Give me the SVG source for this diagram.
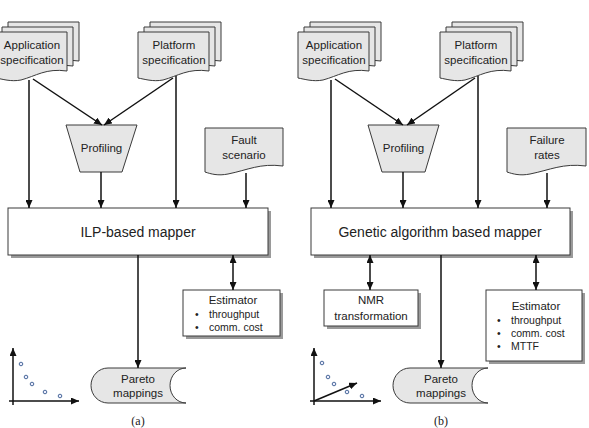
<svg xmlns="http://www.w3.org/2000/svg" width="589" height="428" viewBox="0 0 589 428">
<style>
.sh{fill:#e6e6e6;stroke:#3a3a3a;stroke-width:1}
.bx{fill:#fff;stroke:#3a3a3a;stroke-width:1}
.sd{fill:#9a9a9a}
.ln{stroke:#111;stroke-width:1.5;fill:none}
.t{font-family:"Liberation Sans",Arial,sans-serif;font-size:11.5px;fill:#222;text-anchor:middle}
.tb{font-family:"Liberation Sans",Arial,sans-serif;font-size:14px;fill:#222;text-anchor:middle}
.ts{font-family:"Liberation Sans",Arial,sans-serif;font-size:10.5px;fill:#222}
.cap{font-family:"Liberation Serif","Times New Roman",serif;font-size:12px;fill:#222;text-anchor:middle}
.pt{fill:#eef;stroke:#4a6a9a;stroke-width:1}
</style>
<defs>
<marker id="ah" markerUnits="userSpaceOnUse" markerWidth="8" markerHeight="7" refX="8" refY="3.5" orient="auto-start-reverse">
<path d="M0,0 L8,3.5 L0,7 z" fill="#111"/>
</marker>
<path id="doc" d="M0,0 H71 V39 C50,36 40,44 25,48 C15,50 6,47 0,46 Z"/>
</defs>

<!-- ===== Panel (a) ===== -->
<g id="app-spec-a">
<use href="#doc" class="sh" x="8" y="22"/>
<use href="#doc" class="sh" x="2" y="27"/>
<use href="#doc" class="sh" x="-4" y="32"/>
<text class="t" x="32" y="49">Application</text>
<text class="t" x="32" y="64">specification</text>
</g>
<g id="plat-spec-a">
<use href="#doc" class="sh" x="150" y="22"/>
<use href="#doc" class="sh" x="144" y="27"/>
<use href="#doc" class="sh" x="138" y="32"/>
<text class="t" x="174" y="49">Platform</text>
<text class="t" x="174" y="64">specification</text>
</g>
<g id="profiling-a">
<path class="sh" d="M66,125 H137 L122,172 H80 Z"/>
<text class="t" x="101.5" y="152">Profiling</text>
</g>
<g id="fault-a">
<path class="sh" d="M205,128 H283 V166 C260,163 248,170 228,174 C218,176 211,174 205,172 Z"/>
<text class="t" x="244" y="144">Fault</text>
<text class="t" x="244" y="159">scenario</text>
</g>
<g id="mapper-a">
<rect class="sd" x="11" y="211" width="260" height="47"/>
<rect class="bx" x="8" y="208" width="260" height="47"/>
<text class="tb" x="138" y="237">ILP-based mapper</text>
</g>
<g id="estimator-a">
<rect class="sd" x="186" y="293" width="97" height="46"/>
<rect class="bx" x="183" y="290" width="97" height="46"/>
<text class="t" x="233" y="304">Estimator</text>
<text class="ts" x="195" y="318">•</text>
<text class="ts" x="209" y="318">throughput</text>
<text class="ts" x="195" y="331">•</text>
<text class="ts" x="209" y="331">comm. cost</text>
</g>
<g id="pareto-a">
<path class="sh" d="M108,368 H186 A16,17.5 0 0 0 186,403 H108 A17,17.5 0 0 1 108,368 Z"/>
<text class="t" x="138" y="383">Pareto</text>
<text class="t" x="138" y="397">mappings</text>
</g>
<g id="plot-a">
<line class="ln" x1="13" y1="405" x2="13" y2="348" marker-end="url(#ah)"/>
<line class="ln" x1="9" y1="401" x2="79" y2="401" marker-end="url(#ah)"/>
<circle class="pt" cx="21" cy="364" r="1.8"/>
<circle class="pt" cx="26" cy="377" r="1.8"/>
<circle class="pt" cx="32" cy="384" r="1.8"/>
<circle class="pt" cx="45" cy="392" r="1.8"/>
<circle class="pt" cx="60" cy="396" r="1.8"/>
</g>
<text class="cap" x="138" y="425">(a)</text>

<!-- ===== Panel (b) ===== -->
<g id="app-spec-b">
<use href="#doc" class="sh" x="310" y="22"/>
<use href="#doc" class="sh" x="304" y="27"/>
<use href="#doc" class="sh" x="298" y="32"/>
<text class="t" x="334" y="49">Application</text>
<text class="t" x="334" y="64">specification</text>
</g>
<g id="plat-spec-b">
<use href="#doc" class="sh" x="452" y="22"/>
<use href="#doc" class="sh" x="446" y="27"/>
<use href="#doc" class="sh" x="440" y="32"/>
<text class="t" x="476" y="49">Platform</text>
<text class="t" x="476" y="64">specification</text>
</g>
<g id="profiling-b">
<path class="sh" d="M368,125 H439 L425,172 H382 Z"/>
<text class="t" x="403.5" y="152">Profiling</text>
</g>
<g id="failure-b">
<path class="sh" d="M507,128 H586 V166 C563,163 550,170 530,174 C520,176 513,174 507,172 Z"/>
<text class="t" x="547" y="144">Failure</text>
<text class="t" x="547" y="159">rates</text>
</g>
<g id="mapper-b">
<rect class="sd" x="314" y="211" width="259" height="47"/>
<rect class="bx" x="311" y="208" width="259" height="47"/>
<text class="tb" x="440" y="237">Genetic algorithm based mapper</text>
</g>
<g id="nmr-b">
<rect class="sd" x="327" y="293" width="94" height="36"/>
<rect class="bx" x="324" y="290" width="94" height="36"/>
<text class="t" x="371" y="304">NMR</text>
<text class="t" x="371" y="320">transformation</text>
</g>
<g id="estimator-b">
<rect class="sd" x="489" y="293" width="96" height="71"/>
<rect class="bx" x="486" y="290" width="96" height="71"/>
<text class="t" x="536" y="310">Estimator</text>
<text class="ts" x="497" y="324">•</text>
<text class="ts" x="511" y="324">throughput</text>
<text class="ts" x="497" y="337">•</text>
<text class="ts" x="511" y="337">comm. cost</text>
<text class="ts" x="497" y="350">•</text>
<text class="ts" x="511" y="350">MTTF</text>
</g>
<g id="pareto-b">
<path class="sh" d="M410,368 H488 A16,17.5 0 0 0 488,403 H410 A17,17.5 0 0 1 410,368 Z"/>
<text class="t" x="441" y="383">Pareto</text>
<text class="t" x="441" y="397">mappings</text>
</g>
<g id="plot-b">
<line class="ln" x1="314" y1="405" x2="314" y2="348" marker-end="url(#ah)"/>
<line class="ln" x1="310" y1="401" x2="381" y2="401" marker-end="url(#ah)"/>
<line class="ln" x1="314" y1="401" x2="357" y2="383" marker-end="url(#ah)"/>
<circle class="pt" cx="322" cy="363" r="1.8"/>
<circle class="pt" cx="328" cy="377" r="1.8"/>
<circle class="pt" cx="334" cy="384" r="1.8"/>
<circle class="pt" cx="347" cy="392" r="1.8"/>
<circle class="pt" cx="362" cy="396" r="1.8"/>
</g>
<text class="cap" x="441" y="425">(b)</text>

<!-- ===== Connectors ===== -->
<g id="connectors">
<line class="ln" x1="33" y1="79" x2="102" y2="125" marker-end="url(#ah)"/>
<line class="ln" x1="173" y1="78" x2="104" y2="125" marker-end="url(#ah)"/>
<line class="ln" x1="29" y1="80" x2="29" y2="208" marker-end="url(#ah)"/>
<line class="ln" x1="101" y1="172" x2="101" y2="208" marker-end="url(#ah)"/>
<line class="ln" x1="176" y1="76" x2="176" y2="208" marker-end="url(#ah)"/>
<line class="ln" x1="246" y1="173" x2="246" y2="208" marker-end="url(#ah)"/>
<line class="ln" x1="138" y1="255" x2="138" y2="368" marker-end="url(#ah)"/>
<line class="ln" x1="233" y1="255" x2="233" y2="290" marker-start="url(#ah)" marker-end="url(#ah)"/>

<line class="ln" x1="335" y1="79" x2="403" y2="125" marker-end="url(#ah)"/>
<line class="ln" x1="475" y1="78" x2="407" y2="125" marker-end="url(#ah)"/>
<line class="ln" x1="331" y1="80" x2="331" y2="208" marker-end="url(#ah)"/>
<line class="ln" x1="403" y1="172" x2="403" y2="208" marker-end="url(#ah)"/>
<line class="ln" x1="478" y1="76" x2="478" y2="208" marker-end="url(#ah)"/>
<line class="ln" x1="547" y1="173" x2="547" y2="208" marker-end="url(#ah)"/>
<line class="ln" x1="370" y1="255" x2="370" y2="290" marker-start="url(#ah)" marker-end="url(#ah)"/>
<line class="ln" x1="441" y1="255" x2="441" y2="368" marker-end="url(#ah)"/>
<line class="ln" x1="536" y1="255" x2="536" y2="290" marker-start="url(#ah)" marker-end="url(#ah)"/>
</g>
</svg>
